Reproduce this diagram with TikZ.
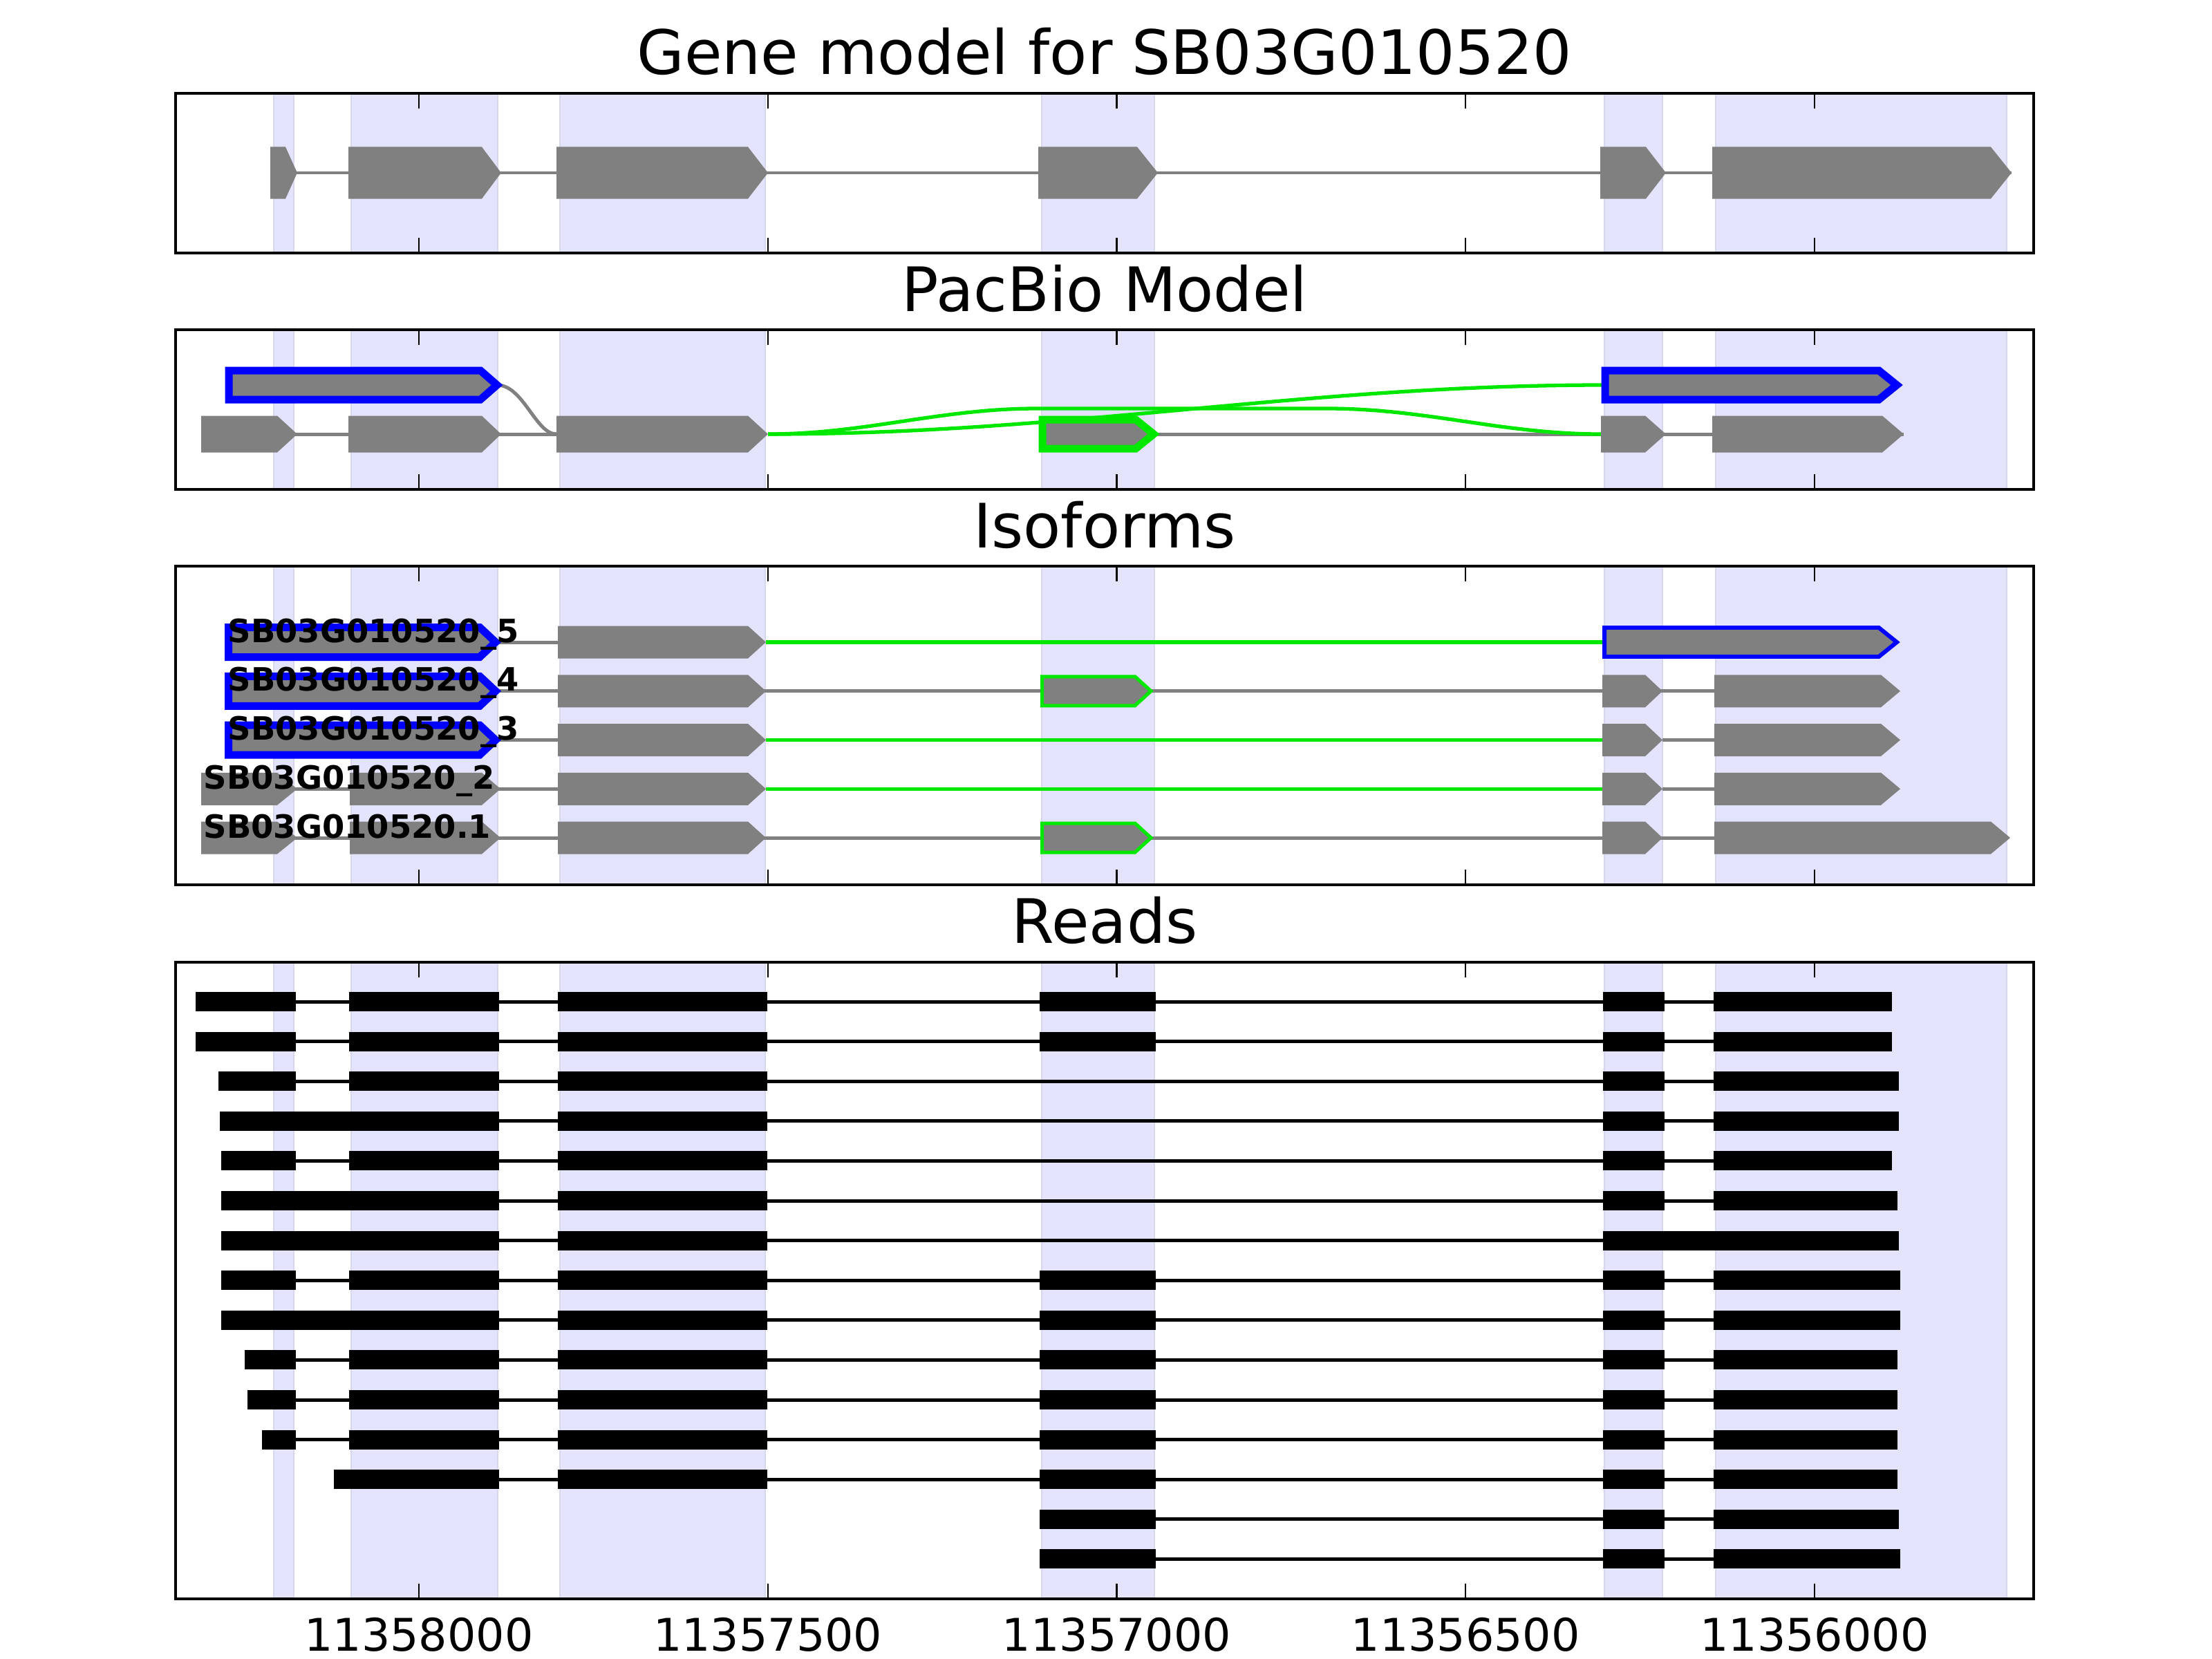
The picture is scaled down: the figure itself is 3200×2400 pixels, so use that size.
\documentclass[tikz,border=0pt]{standalone}
\usepackage{fontspec}
\setmainfont{DejaVu Sans}
\definecolor{exgray}{RGB}{128,128,128}
\definecolor{bandfill}{RGB}{227,227,252}
\definecolor{bandedge}{RGB}{214,214,236}
\definecolor{lgreen}{RGB}{0,232,0}
\newcommand{\gx}[6][exon]{\path[#1] (#2,{#5-#6/2}) -- (#3,{#5-#6/2}) -- (#4,#5) -- (#3,{#5+#6/2}) -- (#2,{#5+#6/2}) -- cycle;}
\newcommand{\panelbg}[2]{\foreach \a/\b in {396/425,508/720,810/1107,1507/1670,2321/2405,2482/2903} {\path[bandbox] (\a,#1) rectangle (\b,#2);}}
\newcommand{\panelfg}[2]{\foreach \t in {606,1110.75,1615.5,2120.25,2625} {\draw[tickmark] (\t,#1) -- (\t,{#1+22}); \draw[tickmark] (\t,#2) -- (\t,{#2-22});} \draw[framebox] (254,#1) rectangle (2942,#2);}
\newcommand{\rdrow}[4]{\draw[rdline] (#2,#1) -- (#3,#1); \foreach \a/\b in {#4} {\fill[black] (\a,{#1-14}) rectangle (\b,{#1+14});}}
\begin{document}
\begin{tikzpicture}[x=0.01cm,y=-0.01cm,
  exon/.style={fill=exgray,draw=none},
  intr/.style={draw=exgray,line width=1.42pt},
  gline/.style={draw=lgreen,line width=1.5pt},
  framebox/.style={draw=black,line width=1.35pt},
  tickmark/.style={draw=black,line width=0.65pt},
  bandbox/.style={fill=bandfill,draw=bandedge,line width=0.8pt},
  rdline/.style={draw=black,line width=1.42pt},
  bluethick/.style={fill=exgray,draw=blue,line width=3.13pt,line join=miter,miter limit=10},
  greenthick/.style={fill=exgray,draw=lgreen,line width=3.13pt,line join=miter,miter limit=10},
  bluethin/.style={fill=exgray,draw=blue,line width=1.7pt,line join=miter,miter limit=10},
  greenthin/.style={fill=exgray,draw=lgreen,line width=1.42pt,line join=miter,miter limit=10},
  ttl/.style={font=\fontsize{25.2pt}{30pt}\selectfont,inner sep=0pt,anchor=base},
  tkl/.style={font=\fontsize{18.5pt}{22pt}\selectfont,inner sep=0pt,anchor=base},
  lbl/.style={font=\bfseries\fontsize{13.2pt}{15pt}\selectfont,inner sep=0pt,anchor=base west}]
\useasboundingbox[fill=white] (0,0) rectangle (3200,2400);

% ---------- titles ----------
\node[ttl] (t1) at (1598,108) {Gene model for SB03G010520};
\node[ttl] (t2) at (1598,450) {PacBio Model};
\node[ttl] (t3) at (1598,792) {Isoforms};
\node[ttl] (t4) at (1598,1364) {Reads};

% ---------- panel 1: gene model ----------
\panelbg{135}{366}
\draw[intr] (391,250) -- (2910,250);
\gx{391}{413}{430}{250}{75}
\gx{504}{697}{725}{250}{75}
\gx{805}{1082}{1111}{250}{75}
\gx{1502}{1645}{1675}{250}{75}
\gx{2315}{2381}{2410}{250}{75}
\gx{2477}{2880}{2910}{250}{75}
\panelfg{135}{366}

% ---------- panel 2: PacBio model ----------
\panelbg{477}{708}
\draw[intr] (291,628) -- (805,628);
\draw[intr] (1669,628) -- (2754,628);
\draw[gline] (1111,628) .. controls (1549,628) and (1878,557) .. (2322,557);
\draw[gline] (1111,628) .. controls (1252,628) and (1359,591) .. (1500,591) -- (1920,591) .. controls (2064,591) and (2172,628) .. (2316,628);
\draw[intr] (719,557) .. controls (757,557) and (775,628) .. (805,628);
\gx{291}{401}{430}{628}{53}
\gx{504}{697}{725}{628}{53}
\gx{805}{1082}{1111}{628}{53}
\gx{2316}{2380}{2410}{628}{53}
\gx{2477}{2723}{2754}{628}{53}
\gx[greenthick]{1508}{1643}{1669}{628}{42}
\gx[bluethick]{331}{695}{719}{557}{42}
\gx[bluethick]{2322}{2718}{2744}{557}{42}
\panelfg{477}{708}

% ---------- panel 3: isoforms ----------
\panelbg{819}{1280}
% row 5
\draw[intr] (717,929) -- (807,929);
\draw[gline] (1108,929) -- (2321,929);
\gx[bluethick]{330.5}{694}{717}{929}{43}
\gx{807}{1082}{1108}{929}{47}
\gx[bluethin]{2321}{2718}{2744}{929}{42}
% row 4
\draw[intr] (717,999.75) -- (2480,999.75);
\gx[bluethick]{330.5}{694}{717}{999.75}{43}
\gx{807}{1082}{1108}{999.75}{47}
\gx[greenthin]{1507.5}{1642}{1665}{999.75}{42}
\gx{2318}{2380}{2405}{999.75}{47}
\gx{2480}{2721}{2749}{999.75}{47}
% row 3
\draw[intr] (717,1070.5) -- (807,1070.5);
\draw[gline] (1108,1070.5) -- (2318,1070.5);
\draw[intr] (2405,1070.5) -- (2480,1070.5);
\gx[bluethick]{330.5}{694}{717}{1070.5}{43}
\gx{807}{1082}{1108}{1070.5}{47}
\gx{2318}{2380}{2405}{1070.5}{47}
\gx{2480}{2721}{2749}{1070.5}{47}
% row 2
\draw[intr] (291,1141.25) -- (807,1141.25);
\draw[gline] (1108,1141.25) -- (2318,1141.25);
\draw[intr] (2405,1141.25) -- (2480,1141.25);
\gx{291}{401}{430}{1141.25}{47}
\gx{506}{697}{724}{1141.25}{47}
\gx{807}{1082}{1108}{1141.25}{47}
\gx{2318}{2380}{2405}{1141.25}{47}
\gx{2480}{2721}{2749}{1141.25}{47}
% row 1
\draw[intr] (291,1212) -- (2480,1212);
\gx{291}{401}{430}{1212}{47}
\gx{506}{697}{724}{1212}{47}
\gx{807}{1082}{1108}{1212}{47}
\gx[greenthin]{1507.5}{1642}{1665}{1212}{42}
\gx{2318}{2380}{2405}{1212}{47}
\gx{2480}{2880}{2908}{1212}{47}
% labels
\node[lbl] (l5) at (329,929) {SB03G010520\_5};
\node[lbl] (l4) at (329,999.75) {SB03G010520\_4};
\node[lbl] (l3) at (329,1070.5) {SB03G010520\_3};
\node[lbl] (l2) at (294,1141.25) {SB03G010520\_2};
\node[lbl] (l1) at (294,1212) {SB03G010520.1};
\panelfg{819}{1280}

% ---------- panel 4: reads ----------
\panelbg{1392}{2313}
\rdrow{1449}{283}{2737}{283/428,505/722,807/1110,1504/1672,2319/2408,2479/2737}
\rdrow{1506.6}{283}{2737}{283/428,505/722,807/1110,1504/1672,2319/2408,2479/2737}
\rdrow{1564.2}{316}{2747}{316/428,505/722,807/1110,2319/2408,2479/2747}
\rdrow{1621.8}{318}{2747}{318/722,807/1110,2319/2408,2479/2747}
\rdrow{1679.4}{320}{2737}{320/428,505/722,807/1110,2319/2408,2479/2737}
\rdrow{1737}{320}{2745}{320/722,807/1110,2319/2408,2479/2745}
\rdrow{1794.6}{320}{2747}{320/722,807/1110,2319/2747}
\rdrow{1852.2}{320}{2749}{320/428,505/722,807/1110,1504/1672,2319/2408,2479/2749}
\rdrow{1909.8}{320}{2749}{320/722,807/1110,1504/1672,2319/2408,2479/2749}
\rdrow{1967.4}{354}{2745}{354/428,505/722,807/1110,1504/1672,2319/2408,2479/2745}
\rdrow{2025}{358}{2745}{358/428,505/722,807/1110,1504/1672,2319/2408,2479/2745}
\rdrow{2082.6}{379}{2745}{379/428,505/722,807/1110,1504/1672,2319/2408,2479/2745}
\rdrow{2140.2}{483}{2745}{483/722,807/1110,1504/1672,2319/2408,2479/2745}
\rdrow{2197.8}{1504}{2747}{1504/1672,2319/2408,2479/2747}
\rdrow{2255.4}{1504}{2749}{1504/1672,2319/2408,2479/2749}
\panelfg{1392}{2313}

% ---------- tick labels ----------
\node[tkl] (k1) at (606,2388) {11358000};
\node[tkl] (k2) at (1110.75,2388) {11357500};
\node[tkl] (k3) at (1615.5,2388) {11357000};
\node[tkl] (k4) at (2120.25,2388) {11356500};
\node[tkl] (k5) at (2625,2388) {11356000};
\end{tikzpicture}
\end{document}
